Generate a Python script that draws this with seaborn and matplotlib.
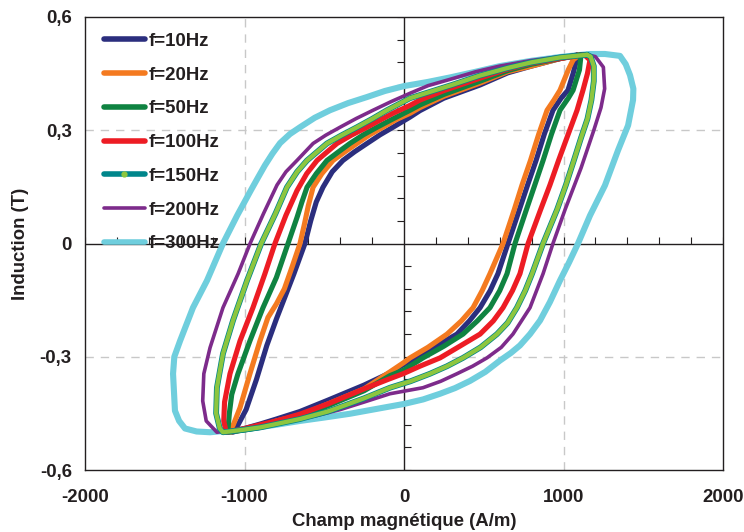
import matplotlib
matplotlib.use("Agg")
import matplotlib.pyplot as plt
from matplotlib.lines import Line2D
import seaborn as sns
import pandas as pd

# ---------------- data ----------------
labels = ["f=10Hz", "f=20Hz", "f=50Hz", "f=100Hz", "f=150Hz", "f=200Hz", "f=300Hz"]

# each loop: closed path, descending (upper) branch then ascending (lower) branch
H_10 = [1090, 980, 800, 650, 477, 250, 100, 38, -69, -150, -232, -310, -383, -450, -508, -550, -585, -621,
        -690, -800, -860, -925, -990, -1040, -1075,
        -1000, -900, -800, -652, -477, -250, -100, 0, 82, 200, 332, 410, 477, 540, 589, 652,
        722, 775, 828, 880, 934, 985, 1028, 1060, 1090]
B_10 = [0.50, 0.49, 0.47, 0.452, 0.42, 0.385, 0.352, 0.335, 0.308, 0.288, 0.265, 0.243, 0.22, 0.19, 0.149, 0.11, 0.06, 0.0,
        -0.08, -0.20, -0.27, -0.36, -0.44, -0.48, -0.50,
        -0.49, -0.478, -0.465, -0.445, -0.415, -0.375, -0.345, -0.32, -0.303, -0.272, -0.24, -0.205, -0.17, -0.125, -0.08, 0.0,
        0.088, 0.155, 0.22, 0.29, 0.353, 0.385, 0.406, 0.45, 0.50]

H_20 = [1100, 980, 800, 650, 477, 250, 100, 38, -50, -132, -215, -295, -370, -445, -515, -570, -600, -625, -652,
        -700, -750, -800, -853, -903, -966, -1028, -1070, -1095,
        -1000, -900, -800, -652, -477, -250, -88, 0, 38, 150, 270, 360, 433, 490, 539, 580, 621,
        690, 740, 793, 845, 897, 940, 978, 1030, 1060, 1100]
B_20 = [0.50, 0.49, 0.47, 0.455, 0.425, 0.39, 0.36, 0.345, 0.328, 0.308, 0.288, 0.265, 0.243, 0.22, 0.185, 0.149, 0.10, 0.05, 0.0,
        -0.06, -0.12, -0.16, -0.196, -0.258, -0.345, -0.435, -0.48, -0.50,
        -0.493, -0.484, -0.47, -0.455, -0.425, -0.385, -0.34, -0.315, -0.303, -0.275, -0.24, -0.205, -0.17, -0.125, -0.08, -0.04, 0.0,
        0.088, 0.155, 0.22, 0.29, 0.353, 0.38, 0.406, 0.46, 0.486, 0.50]

H_50 = [1110, 980, 800, 650, 477, 250, 100, 38, -70, -169, -255, -339, -410, -483, -550, -608, -640, -670, -727,
        -800, -884, -966, -1041, -1080, -1095, -1105,
        -1000, -900, -800, -652, -477, -250, -88, 0, 119, 250, 370, 460, 539, 600, 646, 696,
        766, 820, 872, 925, 978, 1030, 1060, 1100, 1110]
B_50 = [0.50, 0.49, 0.475, 0.458, 0.43, 0.395, 0.367, 0.353, 0.33, 0.308, 0.288, 0.265, 0.243, 0.22, 0.185, 0.149, 0.11, 0.07, 0.0,
        -0.09, -0.17, -0.258, -0.345, -0.40, -0.45, -0.50,
        -0.494, -0.487, -0.475, -0.458, -0.43, -0.39, -0.35, -0.335, -0.303, -0.272, -0.24, -0.205, -0.17, -0.125, -0.08, 0.0,
        0.088, 0.155, 0.22, 0.29, 0.353, 0.385, 0.406, 0.46, 0.50]

H_100 = [1130, 980, 800, 650, 477, 250, 100, 38, -69, -150, -232, -330, -420, -545, -610, -671, -740, -809,
         -872, -947, -1028, -1091, -1125, -1130, -1115,
         -1000, -900, -800, -652, -477, -250, -100, -6, 100, 226, 350, 477, 560, 621, 680, 727, 778,
         855, 915, 969, 1030, 1085, 1122, 1150, 1166, 1130]
B_100 = [0.50, 0.49, 0.478, 0.462, 0.438, 0.405, 0.38, 0.366, 0.345, 0.327, 0.308, 0.287, 0.265, 0.22, 0.185, 0.14, 0.075, 0.0,
         -0.08, -0.17, -0.258, -0.345, -0.42, -0.47, -0.50,
         -0.49, -0.48, -0.47, -0.452, -0.425, -0.385, -0.36, -0.345, -0.325, -0.303, -0.272, -0.24, -0.205, -0.17, -0.125, -0.08, 0.0,
         0.088, 0.155, 0.22, 0.29, 0.353, 0.406, 0.45, 0.486, 0.50]

H_150 = [1148, 980, 800, 650, 477, 300, 150, 38, -107, -200, -295, -390, -483, -608, -670, -734, -805, -895,
         -984, -1072, -1135, -1173, -1178, -1155, -1135,
         -1000, -900, -652, -477, -250, -88, 40, 163, 270, 370, 480, 583, 650, 708, 760, 803, 872,
         960, 1015, 1065, 1110, 1150, 1175, 1190, 1190, 1170, 1148]
B_150 = [0.50, 0.493, 0.48, 0.465, 0.445, 0.42, 0.40, 0.385, 0.353, 0.33, 0.308, 0.287, 0.265, 0.22, 0.19, 0.149, 0.08, 0.0,
         -0.098, -0.204, -0.292, -0.382, -0.45, -0.49, -0.50,
         -0.493, -0.487, -0.465, -0.445, -0.41, -0.382, -0.365, -0.345, -0.325, -0.303, -0.275, -0.24, -0.21, -0.17, -0.125, -0.08, 0.0,
         0.09, 0.155, 0.22, 0.28, 0.33, 0.38, 0.43, 0.47, 0.495, 0.50]

H_200 = [1150, 980, 800, 600, 450, 290, 150, 38, -80, -194, -300, -401, -490, -570, -671, -740, -796, -880, -965,
         -1040, -1135, -1216, -1255, -1262, -1240, -1173,
         -1000, -850, -700, -550, -400, -250, -88, 119, 230, 332, 430, 520, 610, 683, 790, 872, 934,
         1010, 1060, 1110, 1150, 1190, 1235, 1258, 1250, 1200, 1150]
B_200 = [0.50, 0.495, 0.485, 0.47, 0.455, 0.435, 0.418, 0.398, 0.376, 0.353, 0.331, 0.308, 0.287, 0.265, 0.22, 0.19, 0.155, 0.08, 0.0,
         -0.08, -0.17, -0.276, -0.345, -0.417, -0.47, -0.50,
         -0.49, -0.48, -0.47, -0.456, -0.44, -0.42, -0.398, -0.382, -0.365, -0.345, -0.325, -0.303, -0.275, -0.24, -0.17, -0.08, 0.0,
         0.09, 0.145, 0.20, 0.25, 0.30, 0.36, 0.41, 0.467, 0.495, 0.50]

H_300 = [1166, 978, 800, 602, 450, 290, 150, 0, -120, -232, -350, -464, -560, -652, -715, -777, -825, -872, -915, -960, -1045, -1135,
         -1235, -1323, -1404, -1440, -1448, -1436, -1410, -1373, -1300, -1216,
         -966, -800, -652, -500, -339, -170, 0, 120, 226, 320, 414, 510, 602, 670, 727, 790, 853, 915, 978, 1035, 1091,
         1166, 1260, 1342, 1405, 1436, 1438, 1417, 1390, 1354, 1260, 1166]
B_300 = [0.502, 0.494, 0.484, 0.47, 0.455, 0.44, 0.428, 0.417, 0.404, 0.388, 0.372, 0.353, 0.333, 0.308, 0.29, 0.266, 0.238, 0.207, 0.175, 0.141, 0.075, 0.0,
         -0.098, -0.17, -0.258, -0.30, -0.345, -0.443, -0.47, -0.49, -0.498, -0.50,
         -0.49, -0.48, -0.47, -0.461, -0.451, -0.438, -0.425, -0.413, -0.398, -0.383, -0.364, -0.34, -0.31, -0.29, -0.27, -0.24, -0.204, -0.155, -0.098, -0.05, 0.0,
         0.074, 0.154, 0.247, 0.313, 0.38, 0.41, 0.446, 0.475, 0.497, 0.502, 0.502]

x_ticks = [-2000, -1000, 0, 1000, 2000]
x_tick_labels = ["-2000", "-1000", "0", "1000", "2000"]
y_ticks = [-0.6, -0.3, 0.0, 0.3, 0.6]
y_tick_labels = ["-0,6", "-0,3", "0", "0,3", "0,6"]
x_label = "Champ magnétique (A/m)"
y_label = "Induction (T)"

# ---------------- style ----------------
sns.set_style("white")
plt.rcParams["font.family"] = ["Liberation Sans", "DejaVu Sans"]
plt.rcParams["font.weight"] = "bold"

colors = {
    "f=10Hz": "#2B2E7E",
    "f=20Hz": "#F47A20",
    "f=50Hz": "#0F8341",
    "f=100Hz": "#ED1C24",
    "f=150Hz": "#8DC63F",
    "f=200Hz": "#7D2B8B",
    "f=300Hz": "#6FCEDD",
}
teal = "#00868B"
widths = {"f=10Hz": 3.7, "f=20Hz": 3.7, "f=50Hz": 3.7, "f=100Hz": 3.7,
          "f=150Hz": 3.1, "f=200Hz": 2.6, "f=300Hz": 4.4}

series = {
    "f=10Hz": (H_10, B_10), "f=20Hz": (H_20, B_20), "f=50Hz": (H_50, B_50),
    "f=100Hz": (H_100, B_100), "f=150Hz": (H_150, B_150),
    "f=200Hz": (H_200, B_200), "f=300Hz": (H_300, B_300),
}

rows = []
for lab in labels:
    hs, bs = series[lab]
    for i, (h, b) in enumerate(zip(hs, bs)):
        rows.append({"f": lab, "idx": i, "H": h, "B": b})
df = pd.DataFrame(rows)

FS = 13.4
fig = plt.figure(figsize=(7.44, 5.32), dpi=100)
ax = fig.add_axes([85 / 744, 1 - 470 / 532, (723 - 85) / 744, (470 - 17) / 532])

# grid + zero axes
for xv in [-1000, 1000]:
    ax.axvline(xv, color="#C8C8C8", lw=1.0, ls=(0, (6, 5)), zorder=0)
for yv in [-0.3, 0.3]:
    ax.axhline(yv, color="#C8C8C8", lw=1.0, ls=(0, (6, 5)), zorder=0)
ax.axhline(0, color="#231F20", lw=1.0, zorder=1)
ax.axvline(0, color="#231F20", lw=1.0, zorder=1)

draw_order = ["f=300Hz", "f=200Hz", "f=10Hz", "f=20Hz", "f=50Hz", "f=100Hz", "f=150Hz"]
for z, lab in enumerate(draw_order):
    sub = df[df["f"] == lab]
    if lab == "f=150Hz":
        sns.lineplot(data=sub, x="H", y="B", sort=False, estimator=None, ax=ax,
                     color=teal, lw=widths[lab] + 1.1, zorder=5 + z, legend=False)
    sns.lineplot(data=sub, x="H", y="B", sort=False, estimator=None, ax=ax,
                 color=colors[lab], lw=widths[lab], zorder=5 + z, legend=False)

# small ticks on the centre axes
minor_x = [v for v in range(-2000, 2001, 200) if v != 0]
minor_y_pos = [round(0.06 * k, 2) for k in range(1, 11)]
minor_y_neg = [-v for v in minor_y_pos]
ax.plot(minor_x, [0] * len(minor_x), ls="none", marker=2, markersize=5, color="#231F20", mew=0.8, zorder=2)
ax.plot([0] * len(minor_y_pos), minor_y_pos, ls="none", marker=0, markersize=5, color="#231F20", mew=0.8, zorder=2)
ax.plot([0] * len(minor_y_neg), minor_y_neg, ls="none", marker=1, markersize=5, color="#231F20", mew=0.8, zorder=2)

ax.set_xlim(-2000, 2000)
ax.set_ylim(-0.6, 0.6)
ax.set_xticks(x_ticks)
ax.set_xticklabels(x_tick_labels)
ax.set_yticks(y_ticks)
ax.set_yticklabels(y_tick_labels)
ax.tick_params(axis="x", labelsize=FS, length=0, pad=14)
ax.tick_params(axis="y", labelsize=FS, length=0, pad=9.5)
for t in ax.get_xticklabels() + ax.get_yticklabels():
    t.set_fontweight("bold")
    t.set_color("#231F20")
ax.set_xlabel(x_label, fontsize=FS, fontweight="bold", color="#231F20", labelpad=5)
ax.set_ylabel(y_label, fontsize=FS, fontweight="bold", color="#231F20", labelpad=8)
for s in ax.spines.values():
    s.set_visible(True)
    s.set_color("#231F20")
    s.set_linewidth(1.0)

# legend
handles = []
for lab in labels:
    if lab == "f=150Hz":
        handles.append(Line2D([], [], color=teal, lw=4.0, marker="o", markersize=3.5,
                              markerfacecolor=colors[lab], markeredgecolor=colors[lab]))
    else:
        handles.append(Line2D([], [], color=colors[lab], lw=(2.6 if lab == "f=200Hz" else 4.0)))
leg = ax.legend(handles, labels, loc="upper left", bbox_to_anchor=(0.012, 0.99), frameon=False,
                handlelength=2.2, handletextpad=0.22, labelspacing=0.9, numpoints=1,
                prop={"size": FS, "weight": "bold"}, borderaxespad=0.2)
leg.set_zorder(50)
for t in leg.get_texts():
    t.set_color("#231F20")

fig.savefig("out.png", dpi=100)
